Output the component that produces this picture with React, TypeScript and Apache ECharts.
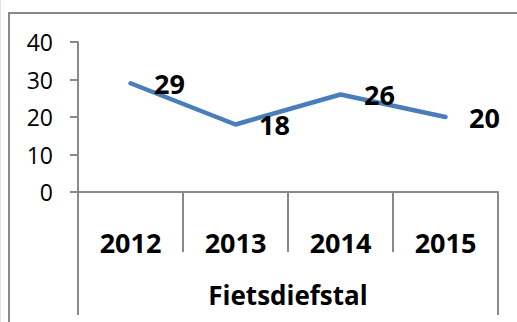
import React, { useEffect, useRef } from "react";
import * as echarts from "echarts";

// Bicycle thefts per year
const years = ["2012", "2013", "2014", "2015"];
const thefts = [29, 18, 26, 20];
const groupLabel = ["Fietsdiefstal"];

const FONT = "'Open Sans', Lato, sans-serif";
const AXIS_GREY = "#898989";

export default function App() {
  const ref = useRef<HTMLDivElement>(null);

  useEffect(() => {
    if (!ref.current) return;
    const chart = echarts.init(ref.current, null, { renderer: "svg" });
    chart.setOption({
      animation: false,
      backgroundColor: "#ffffff",
      textStyle: { fontFamily: FONT },
      grid: { left: 78, right: 19, top: 42, bottom: 130, containLabel: false },
      graphic: [
        {
          type: "rect",
          silent: true,
          shape: { x: 9, y: 13, width: 540, height: 340 },
          style: { fill: "none", stroke: AXIS_GREY, lineWidth: 2 },
        },
        {
          type: "line",
          silent: true,
          shape: { x1: 0.5, y1: 0, x2: 0.5, y2: 322 },
          style: { stroke: "#e2e2e2", lineWidth: 1 },
        },
      ],
      xAxis: [
        {
          type: "category",
          data: years,
          boundaryGap: true,
          position: "bottom",
          axisLine: { show: true, lineStyle: { color: AXIS_GREY, width: 2 } },
          axisTick: {
            show: true,
            interval: 0,
            length: 60,
            lineStyle: { color: AXIS_GREY, width: 2 },
          },
          axisLabel: {
            interval: 0,
            margin: 37,
            color: "#000",
            fontFamily: FONT,
            fontWeight: "bold",
            fontSize: 27,
            lineHeight: 27,
          },
          splitLine: { show: false },
        },
        {
          type: "category",
          data: groupLabel,
          boundaryGap: true,
          position: "bottom",
          axisLine: { show: false },
          axisTick: {
            show: true,
            length: 123,
            lineStyle: { color: AXIS_GREY, width: 2 },
          },
          axisLabel: {
            margin: 90,
            color: "#000",
            fontFamily: FONT,
            fontWeight: "bold",
            fontSize: 26,
            lineHeight: 26,
          },
          splitLine: { show: false },
        },
      ],
      yAxis: {
        type: "value",
        min: 0,
        max: 40,
        interval: 10,
        axisLine: { show: true, lineStyle: { color: AXIS_GREY, width: 2 } },
        axisTick: { show: true, length: 8, lineStyle: { color: AXIS_GREY, width: 2 } },
        axisLabel: {
          margin: 25,
          color: "#000",
          fontFamily: FONT,
          fontSize: 23,
        },
        splitLine: { show: false },
      },
      series: [
        {
          type: "line",
          data: thefts,
          xAxisIndex: 0,
          symbol: "circle",
          symbolSize: 1,
          itemStyle: { color: "rgba(0,0,0,0)", borderWidth: 0 },
          lineStyle: { color: "#4a7ebb", width: 4.5, cap: "round", join: "round" },
          label: {
            show: true,
            position: "right",
            distance: 23,
            color: "#000",
            fontFamily: FONT,
            fontWeight: "bold",
            fontSize: 27,
          },
        },
      ],
    });
    return () => chart.dispose();
  }, []);

  return (
    <div
      ref={ref}
      style={{ position: "fixed", left: 0, top: 0, width: 517, height: 322 }}
    />
  );
}
